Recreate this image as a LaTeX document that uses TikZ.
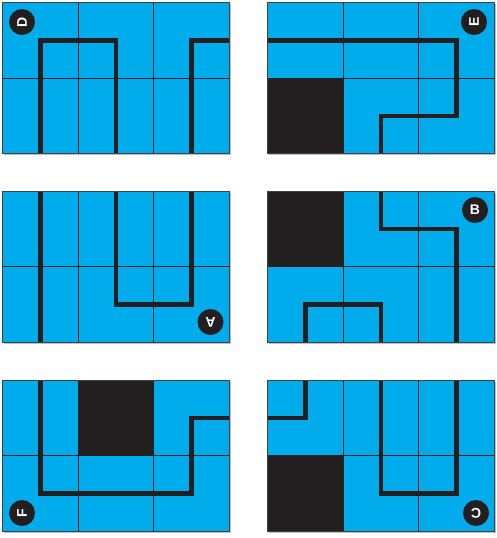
\documentclass[tikz,border=0pt]{standalone}
\usepackage{fontspec}
\setsansfont{Liberation Sans}
\definecolor{tileblue}{RGB}{0,172,236}
\definecolor{inkblack}{RGB}{35,31,32}
\tikzset{
  panelbg/.style={fill=tileblue},
  gridline/.style={draw=inkblack, line width=0.9pt},
  route/.style={draw=inkblack, line width=4.6pt, line join=miter},
  block/.style={fill=inkblack},
  frame/.style={draw=inkblack!85, line width=0.9pt},
  shade/.style={draw=black!25, line width=1.2pt},
  badge/.style={circle, fill=inkblack, text=white, minimum size=26pt, inner sep=0pt,
    font=\sffamily\bfseries\fontsize{14}{14}\selectfont},
  panel/.style={x=75.6pt, y=-75.6pt}
}
\begin{document}
\begin{tikzpicture}[x=1pt,y=-1pt]
\useasboundingbox (0,0) rectangle (496,538);

% ---------- Panel D ----------
\begin{scope}[shift={(2.7,2.7)}, panel]
  \draw[shade] (0.02,2.01) -- (3.01,2.01) -- (3.01,0.02);
  \fill[panelbg] (0,0) rectangle (3,2);
  \draw[gridline] (1,0) -- (1,2) (2,0) -- (2,2) (0,1) -- (3,1);
  \draw[route] (0.5,2) -- (0.5,0.5) -- (1.5,0.5) -- (1.5,2);
  \draw[route] (2.5,2) -- (2.5,0.5) -- (3,0.5);
  \draw[frame] (0,0) rectangle (3,2);
\end{scope}

% ---------- Panel E ----------
\begin{scope}[shift={(267.7,2.7)}, panel]
  \draw[shade] (0.02,2.01) -- (3.01,2.01) -- (3.01,0.02);
  \fill[panelbg] (0,0) rectangle (3,2);
  \fill[block] (0,1) rectangle (1,2);
  \draw[gridline] (1,0) -- (1,2) (2,0) -- (2,2) (0,1) -- (3,1);
  \draw[route] (0,0.5) -- (2.5,0.5) -- (2.5,1.5) -- (1.5,1.5) -- (1.5,2);
  \draw[frame] (0,0) rectangle (3,2);
\end{scope}

% ---------- Panel A ----------
\begin{scope}[shift={(2.7,191)}, panel]
  \draw[shade] (0.02,2.01) -- (3.01,2.01) -- (3.01,0.02);
  \fill[panelbg] (0,0) rectangle (3,2);
  \draw[gridline] (1,0) -- (1,2) (2,0) -- (2,2) (0,1) -- (3,1);
  \draw[route] (0.5,0) -- (0.5,2);
  \draw[route] (1.5,0) -- (1.5,1.5) -- (2.5,1.5) -- (2.5,0);
  \draw[frame] (0,0) rectangle (3,2);
\end{scope}

% ---------- Panel B ----------
\begin{scope}[shift={(267.7,191)}, panel]
  \draw[shade] (0.02,2.01) -- (3.01,2.01) -- (3.01,0.02);
  \fill[panelbg] (0,0) rectangle (3,2);
  \fill[block] (0,0) rectangle (1,1);
  \draw[gridline] (1,0) -- (1,2) (2,0) -- (2,2) (0,1) -- (3,1);
  \draw[route] (1.5,0) -- (1.5,0.5) -- (2.5,0.5) -- (2.5,2);
  \draw[route] (0.5,2) -- (0.5,1.5) -- (1.5,1.5) -- (1.5,2);
  \draw[frame] (0,0) rectangle (3,2);
\end{scope}

% ---------- Panel F ----------
\begin{scope}[shift={(2.7,380)}, panel]
  \draw[shade] (0.02,2.01) -- (3.01,2.01) -- (3.01,0.02);
  \fill[panelbg] (0,0) rectangle (3,2);
  \fill[block] (1,0) rectangle (2,1);
  \draw[gridline] (1,0) -- (1,2) (2,0) -- (2,2) (0,1) -- (3,1);
  \draw[route] (0.5,0) -- (0.5,1.5) -- (2.5,1.5) -- (2.5,0.5) -- (3,0.5);
  \draw[frame] (0,0) rectangle (3,2);
\end{scope}

% ---------- Panel C ----------
\begin{scope}[shift={(267.7,380)}, panel]
  \draw[shade] (0.02,2.01) -- (3.01,2.01) -- (3.01,0.02);
  \fill[panelbg] (0,0) rectangle (3,2);
  \fill[block] (0,1) rectangle (1,2);
  \draw[gridline] (1,0) -- (1,2) (2,0) -- (2,2) (0,1) -- (3,1);
  \draw[route] (0,0.5) -- (0.5,0.5) -- (0.5,0);
  \draw[route] (1.5,0) -- (1.5,1.5) -- (2.5,1.5) -- (2.5,0);
  \draw[frame] (0,0) rectangle (3,2);
\end{scope}

% ---------- Badges ----------
\node[badge, rotate=90]  (labD) at (22,22)   {D};
\node[badge, rotate=90]  (labE) at (474,22)  {E};
\node[badge, rotate=180] (labA) at (210.5,322) {A};
\node[badge]             (labB) at (475,210) {B};
\node[badge, rotate=90]  (labF) at (22,513)  {F};
\node[badge, rotate=180] (labC) at (476,513) {C};
\end{tikzpicture}
\end{document}
